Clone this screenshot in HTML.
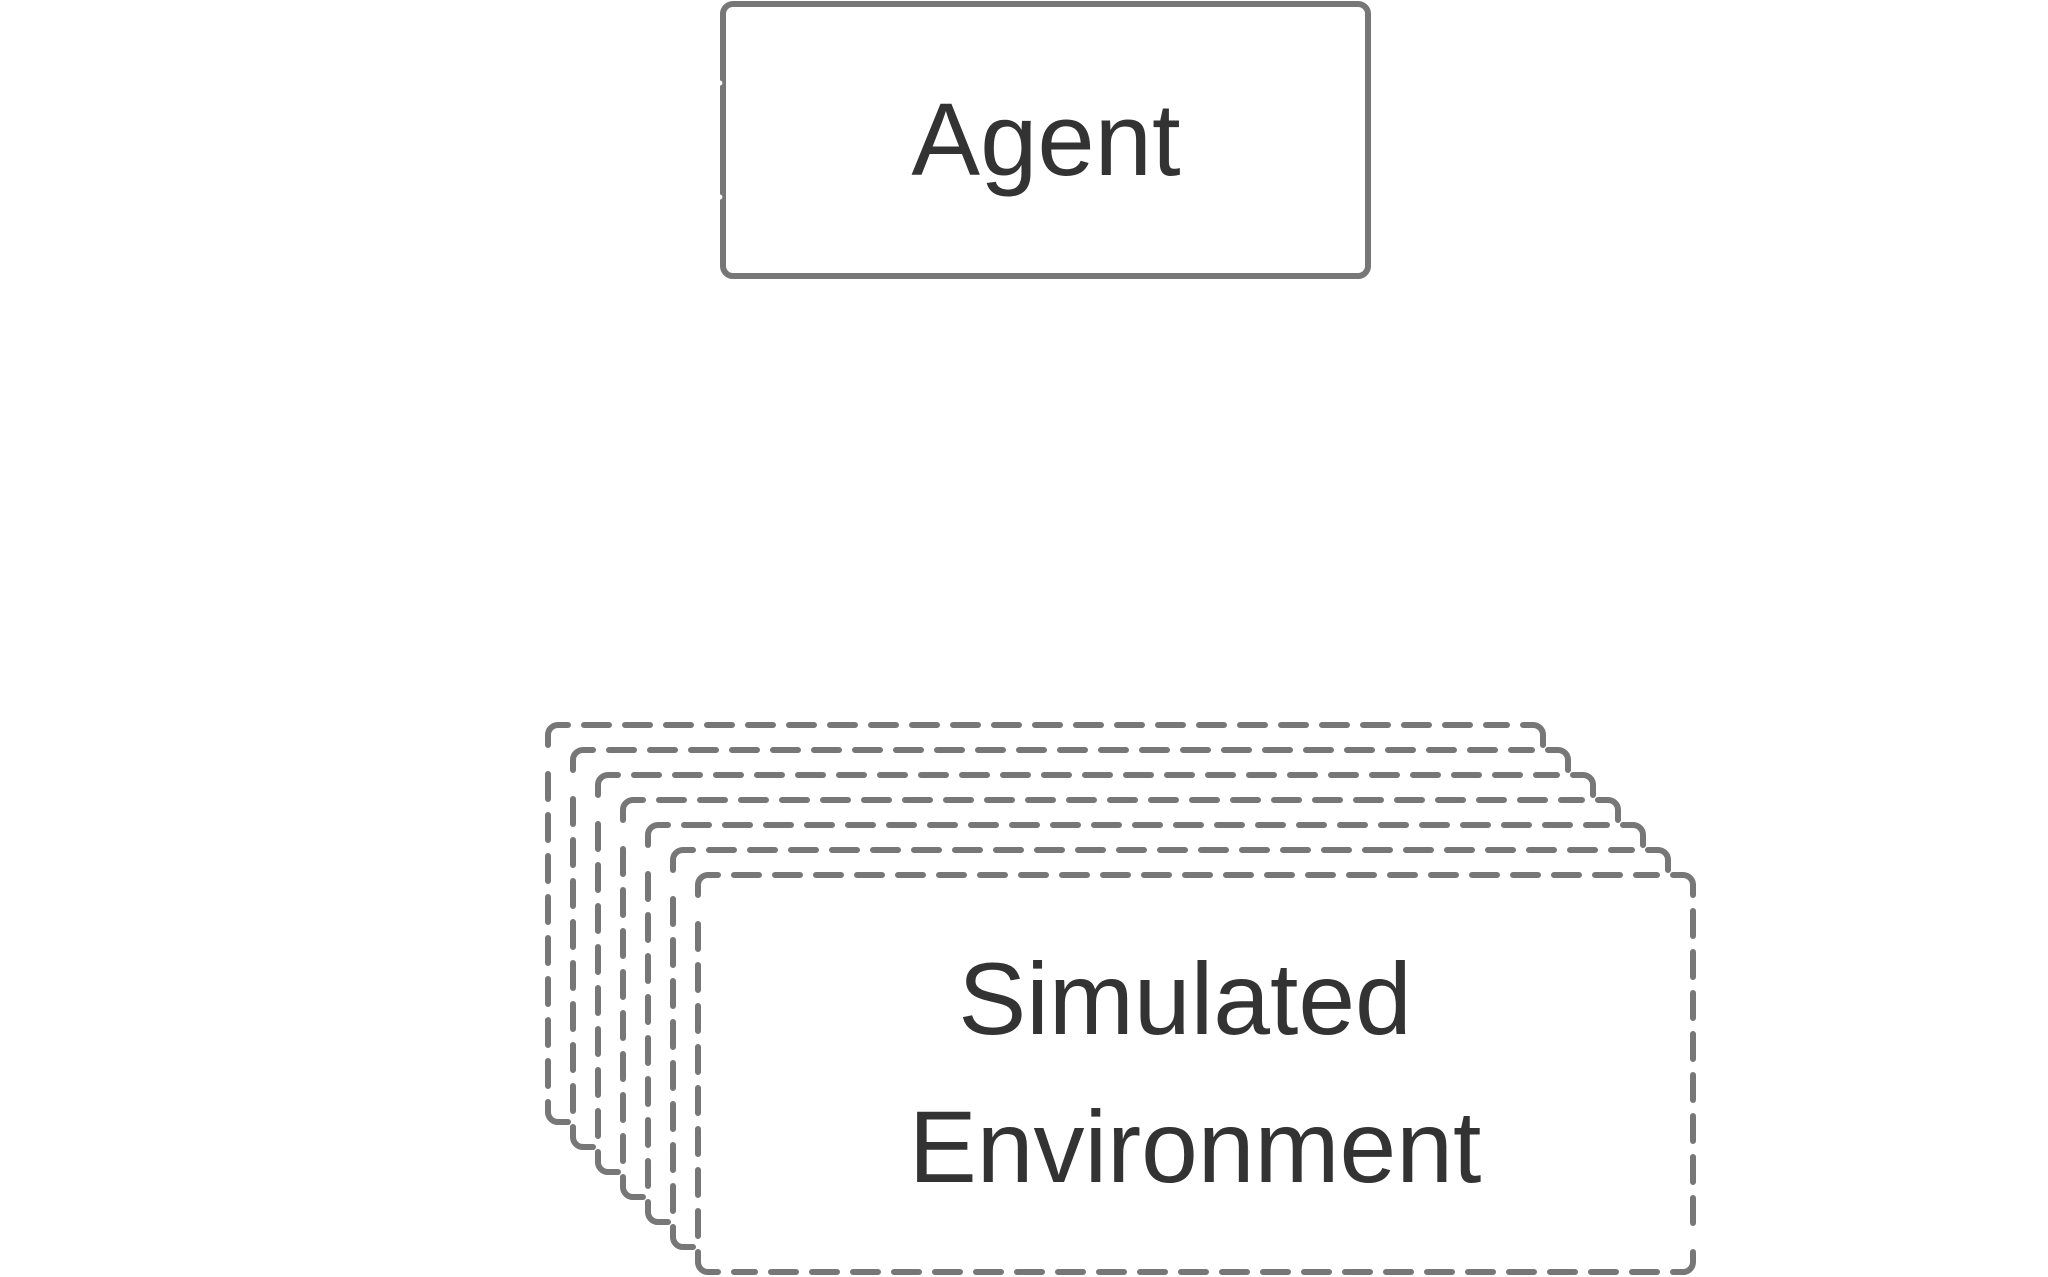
<!DOCTYPE html>
<html>
<head>
<meta charset="utf-8">
<style>
  html, body { margin: 0; padding: 0; background: #ffffff; }
  body { width: 2048px; height: 1277px; overflow: hidden; }
  svg { display: block; }
  text { font-family: "Liberation Sans", Arial, sans-serif; fill: #333333; }
</style>
</head>
<body>
<svg width="2048" height="1277" viewBox="0 0 2048 1277" xmlns="http://www.w3.org/2000/svg" xmlns:xlink="http://www.w3.org/1999/xlink">
  <defs>
    <g id="box">
      <rect x="0" y="0" width="995" height="397" rx="10" ry="10" fill="#ffffff" stroke="none"/>
      <g fill="none" stroke="#777777" stroke-width="6" stroke-linecap="round" stroke-linejoin="round">
        <path d="M0,20 L0,10 A10,10 0 0 1 10,0 L20,0"/>
        <path d="M975,0 L985,0 A10,10 0 0 1 995,10 L995,20"/>
        <path d="M995,377 L995,387 A10,10 0 0 1 985,397 L975,397"/>
        <path d="M20,397 L10,397 A10,10 0 0 1 0,387 L0,377"/>
      </g>
      <g fill="none" stroke="#777777" stroke-width="6" stroke-linecap="round" stroke-dasharray="25 16">
        <path d="M36,0 L959,0"/>
        <path d="M995,36 L995,361"/>
        <path d="M959,397 L36,397"/>
        <path d="M0,361 L0,36"/>
      </g>
    </g>
  </defs>

  <rect x="0" y="0" width="2048" height="1277" fill="#ffffff"/>

  <!-- Agent box -->
  <rect x="723" y="4" width="645" height="272" rx="10" ry="10" fill="#ffffff" stroke="#777777" stroke-width="6"/>
  <circle cx="719.8" cy="83" r="2.6" fill="#ffffff"/>
  <circle cx="719.8" cy="197" r="2.6" fill="#ffffff"/>
  <text x="1046" y="175" font-size="103" text-anchor="middle">Agent</text>

  <!-- Stacked dashed environment boxes (back to front) -->
  <use href="#box" xlink:href="#box" transform="translate(548,725)"/>
  <use href="#box" xlink:href="#box" transform="translate(573,750)"/>
  <use href="#box" xlink:href="#box" transform="translate(598,775)"/>
  <use href="#box" xlink:href="#box" transform="translate(623,800)"/>
  <use href="#box" xlink:href="#box" transform="translate(648,825)"/>
  <use href="#box" xlink:href="#box" transform="translate(673,850)"/>
  <use href="#box" xlink:href="#box" transform="translate(698,875)"/>

  <circle cx="545" cy="846" r="2.4" fill="#ffffff"/>
  <circle cx="545" cy="1016" r="2.4" fill="#ffffff"/>

  <text x="1185" y="1034" font-size="102" text-anchor="middle">Simulated</text>
  <text x="1195" y="1182" font-size="102" text-anchor="middle">Environment</text>
</svg>
</body>
</html>
